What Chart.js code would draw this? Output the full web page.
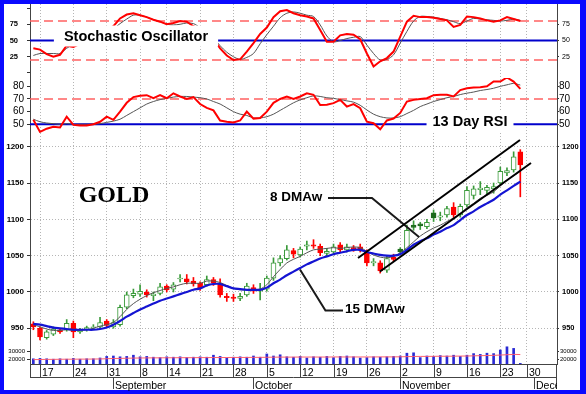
<!DOCTYPE html>
<html>
<head>
<meta charset="utf-8">
<script src="https://cdn.jsdelivr.net/npm/chart.js@4.4.1/dist/chart.umd.min.js"></script>
<style>
  html, body { margin: 0; padding: 0; background: #fff; }
  #chart { display: block; }
</style>
</head>
<body>
<canvas id="chart" width="586" height="394"></canvas>
<script>
// Trading days (2009), last five are empty slots to the right
const dates = [
  '08-14','08-17','08-18','08-19','08-20','08-21','08-24','08-25','08-26','08-27','08-28','08-31',
  '09-01','09-02','09-03','09-04','09-08','09-09','09-10','09-11','09-14','09-15','09-16','09-17','09-18',
  '09-21','09-22','09-23','09-24','09-25','09-28','09-29','09-30',
  '10-01','10-02','10-05','10-06','10-07','10-08','10-09','10-12','10-13','10-14','10-15','10-16',
  '10-19','10-20','10-21','10-22','10-23','10-26','10-27','10-28','10-29','10-30',
  '11-02','11-03','11-04','11-05','11-06','11-09','11-10','11-11','11-12','11-13',
  '11-16','11-17','11-18','11-19','11-20','11-23','11-24','11-25','11-27',
  '11-30','12-01','12-02','12-03','12-04'
];
const monthNames = ['January','February','March','April','May','June','July','August','September','October','November','December'];

// Gold OHLC
const open  = [956,950,937,942,948,948,957,945,949,951,952,960,952,955,979,995,997,1000,995,998,
  1008,1004,1018,1018,1015,1012,1010,1017,1012,994,993,991,996,1006,1001,1004,1019,1040,1046,1057,
  1051,1063,1065,1063,1053,1055,1065,1058,1061,1062,1055,1040,1040,1030,1048,1059,1058,1092,1094,1090,
  1109,1103,1106,1117,1106,1120,1133,1141,1140,1142,1150,1164,1168,1193];
const high  = [959,952,947,952,950,962,960,950,953,955,965,962,962,982,1000,1004,1010,1003,1000,1012,
  1010,1013,1024,1024,1020,1014,1022,1020,1018,998,997,998,1012,1010,1012,1022,1047,1050,1064,1060,
  1062,1070,1072,1066,1060,1066,1068,1066,1064,1066,1058,1046,1043,1050,1052,1061,1092,1098,1096,1100,
  1113,1110,1118,1123,1121,1145,1146,1152,1147,1150,1172,1171,1193,1196];
const low   = [948,934,935,940,943,946,937,943,946,948,950,951,950,953,977,992,994,993,988,996,
  1000,1000,1014,1011,1008,1002,1008,1009,993,987,987,988,994,998,989,1001,1016,1036,1044,1047,
  1048,1058,1060,1050,1050,1052,1055,1055,1056,1055,1036,1036,1026,1027,1042,1052,1055,1085,1086,1087,
  1097,1098,1103,1102,1103,1117,1128,1134,1134,1136,1148,1160,1165,1131];
const close = [952,938,945,949,945,957,945,948,951,952,958,954,958,979,996,998,1001,996,997,1007,
  1003,1010,1019,1014,1011,1006,1017,1012,996,992,991,994,1008,1001,1003,1019,1040,1046,1058,1052,
  1059,1065,1063,1054,1056,1062,1058,1062,1059,1058,1040,1042,1029,1046,1045,1055,1085,1089,1091,1096,
  1102,1105,1115,1106,1118,1140,1142,1143,1144,1145,1166,1167,1186,1175];

// weighted moving averages
const dma8  = [955,952,949,947,947,948,947,947,948,950,953,955,958,966,976,984,990,995,999,1002,
  1005,1007,1010,1012,1012,1012,1015,1015,1013,1009,1005,1003,1003,1003,1004,1010,1021,1031,1040,1045,
  1049,1054,1058,1059,1060,1061,1060,1061,1062,1061,1056,1051,1048,1047,1049,1054,1061,1069,1077,1083,
  1088,1092,1097,1102,1108,1116,1122,1129,1133,1138,1146,1154,1160,1166];
const dma15 = [956,955,953,951,950,949,948,948,948,948,949,951,955,960,966,971,976,980,984,988,
  991,994,997,1000,1003,1005,1009,1011,1011,1008,1005,1004,1003,1003,1003,1006,1012,1017,1023,1028,
  1033,1038,1042,1046,1049,1052,1054,1056,1058,1058,1055,1053,1051,1050,1050,1052,1058,1065,1070,1074,
  1079,1083,1088,1092,1099,1106,1111,1117,1122,1127,1134,1140,1146,1152];

// stochastic oscillator %K and %D
const stochK = [38,36,29,25,28,42,40,45,50,55,62,66,72,84,90,92,89,86,82,79,
  75,77,80,79,72,66,60,52,38,27,20,21,33,46,60,70,86,95,97,92,
  89,87,84,66,48,48,58,60,59,52,30,10,18,23,33,56,79,88,86,86,
  85,83,81,71,74,87,86,84,81,79,81,86,83,80];
const stochD = [27,30,30,30,30,38,44,46,50,54,58,62,68,76,83,89,89,86,82,79,
  75,74,75,77,76,70,64,54,42,32,25,21,24,30,45,59,72,85,92,94,
  92,89,87,74,57,48,50,53,55,56,43,30,20,21,28,46,64,80,87,87,
  86,84,82,79,76,80,84,83,82,81,80,81,83,81];

// 13 day RSI and its average
const rsi    = [53.5,44,46.5,48,47.5,56,49.5,49,49,50,52,56,53.5,60,67,71.5,72.5,73,70.6,73,
  70.6,74.5,72,70,71.5,66,63,61,53,52,51.5,53,60,54.5,55,60,67,70,72,70,
  72,74.5,73.3,65.3,65.5,66.7,69.3,64,66,62.7,52,50.8,46,53,54.5,59,68,69.3,70,70.6,
  73,73.3,73.3,72,77,78.5,79,79.3,80,83.8,83.8,87,83.8,78];
const rsiAvg = [54,52,51,50.5,50,50.5,50,50,50,50,50.5,51.5,52.5,54,57,60,63,66,68,69.5,
  70.5,71.5,72,72,71.5,71,70,68,66,63,60,58,57,55,55,56,58,61,64,67,
  69.3,71,72.5,72,71,70.5,69.5,68.5,67.5,65,61.3,58,56,55,55,56,58.5,61,64,66,
  68,69.5,71,72,73.5,74.6,75.5,76.7,77.5,78.5,80,81.2,82.3,81];

// volume and its average
const volume = [20500,21000,20500,20000,20500,20000,21000,20000,20500,20500,21500,
  23500,24000,23000,23500,25000,23000,23500,22500,22000,23000,
  22500,23000,22000,22500,23000,22500,25000,23500,21500,22500,23000,22500,24000,22500,
  26500,24000,25500,
  23000,22500,23500,21500,23000,22500,23500,22000,23500,24000,23000,21500,22000,23000,22500,23000,23500,
  24000,27500,28000,22000,24000,23500,24500,24000,25000,23500,
  25000,27000,26000,27500,27000,31500,35500,33500,14800];
const volAvg = [19500,19600,19800,19800,19900,20000,20000,20100,20100,20200,
  20300,20600,20900,21000,21200,21400,21500,21600,21700,21700,
  21800,21800,21900,21900,21900,22000,22000,22100,22100,22100,
  22200,22200,22200,22300,22300,22400,22500,22600,22600,22600,
  22700,22700,22700,22700,22700,22800,22800,22800,22800,22800,
  22800,22800,22900,22900,22900,23000,23200,23400,23500,23500,
  23600,23700,23700,23800,23900,24000,24200,24400,24600,24800,
  25200,25600,26000,25800];

// axis ticks
const stochTicks = [0, 25, 50, 75, 100];
const rsiTicks = [50, 60, 70, 80];
const priceTicks = [950, 1000, 1050, 1100, 1150, 1200];
const volTicks = [20000, 30000];

// trend channel and pointer lines (index, price)
const upperChannel = [{x: 48.67, y: 1046.8}, {x: 72.95, y: 1209.3}];
const lowerChannel = [{x: 51.96, y: 1028.2}, {x: 74.6, y: 1177.6}];
const pointer8  = [{x: 44.17, y: 1129.4}, {x: 50.76, y: 1129.4}, {x: 57.81, y: 1075.7}];
const pointer15 = [{x: 46.42, y: 974.5}, {x: 43.79, y: 974.5}, {x: 39.97, y: 1031.0}];

const SANS = '"Liberation Sans", Arial, sans-serif';
const GREEN = '#3a9a3a', DARKGREEN = '#1d6b1d', RED = '#ff0000';
const X_MIN = -0.5, X_MAX = dates.length - 0.5;

const dayOf = s => new Date(2009, +s.slice(0, 2) - 1, +s.slice(3));
const weekStarts = dates.map((d, i) => i).filter(i => i > 0 && dayOf(dates[i]).getDay() <= dayOf(dates[i - 1]).getDay());
const monthStarts = dates.map((d, i) => i).filter(i => i > 0 && dates[i].slice(0, 2) !== dates[i - 1].slice(0, 2));

const pts = arr => arr.map((v, i) => ({ x: i, y: v }));
const flat = v => [{ x: X_MIN, y: v }, { x: X_MAX, y: v }];

// candle colours: green/red against previous close, filled when close < open
const upDay = close.map((c, i) => i > 0 ? c >= close[i - 1] : c >= open[i]);
const bodyFill = close.map((c, i) => c >= open[i] ? '#ffffff' : (upDay[i] ? DARKGREEN : RED));
const bodyEdge = close.map((c, i) => upDay[i] ? (c >= open[i] ? GREEN : DARKGREEN) : RED);
const wickColor = upDay.map(u => u ? GREEN : RED);

function lineSet(axis, data, color, width, order, extra) {
  return Object.assign({ type: 'line', yAxisID: axis, data, borderColor: color, borderWidth: width,
    pointRadius: 0, fill: false, order }, extra || {});
}

const datasets = [
  // reference lines
  lineSet('stoch', flat(80), '#ff6262', 1.5, 9, { borderDash: [9, 5] }),
  lineSet('stoch', flat(20), '#ff6262', 1.5, 9, { borderDash: [9, 5] }),
  lineSet('stoch', flat(50), '#0000cc', 2, 9),
  lineSet('rsi', flat(70), '#ff6262', 1.5, 9, { borderDash: [9, 5] }),
  lineSet('rsi', flat(50), '#0000cc', 2, 9),
  // oscillators
  lineSet('stoch', pts(stochD), '#555555', 1, 4, { tension: 0.3 }),
  lineSet('stoch', pts(stochK), '#ff0000', 2, 3),
  lineSet('rsi', pts(rsiAvg), '#555555', 1, 4, { tension: 0.3 }),
  lineSet('rsi', pts(rsi), '#ff0000', 2, 3),
  // volume
  { type: 'bar', yAxisID: 'vol', data: pts(volume), base: 14000, backgroundColor: '#2a2ad4',
    barThickness: 2, grouped: false, order: 12 },
  lineSet('vol', pts(volAvg), '#ff6070', 1, 11),
  // candles
  { type: 'bar', yAxisID: 'price', data: low.map((l, i) => ({ x: i, y: [l, high[i]] })),
    backgroundColor: wickColor, barThickness: 1, grouped: false, order: 8 },
  { type: 'bar', yAxisID: 'price', data: open.map((o, i) => ({ x: i, y: [o, close[i]] })),
    backgroundColor: bodyFill, borderColor: bodyEdge, borderWidth: 1, borderSkipped: false,
    barThickness: 5, grouped: false, order: 7 },
  // averages
  lineSet('price', pts(dma8), '#555555', 1, 2, { tension: 0.3 }),
  lineSet('price', pts(dma15), '#1414d2', 2.2, 1, { tension: 0.3 }),
  // channel + pointers
  lineSet('price', upperChannel, '#000000', 2, 0),
  lineSet('price', lowerChannel, '#000000', 2, 0),
  lineSet('price', pointer8, '#1a1a1a', 2, 0),
  lineSet('price', pointer15, '#1a1a1a', 2, 0)
];

// text on the chart
const captions = [
  { text: 'Stochastic Oscillator', axis: 'stoch', x: 15.39, y: 56.9, padX: 10, h: 21 },
  { text: '13 Day RSI', axis: 'rsi', x: 65.46, y: 52.6, padX: 6, h: 20 }
];
const notes = [
  { text: 'GOLD', x: 12.09, y: 1132.2, font: 'bold 24px "Liberation Serif", "Times New Roman", serif', align: 'center' },
  { text: '8 DMAw', x: 35.47, y: 1130.1, font: 'bold 13.5px ' + SANS, align: 'left' },
  { text: '15 DMAw', x: 46.72, y: 975.9, font: 'bold 13.5px ' + SANS, align: 'left' }
];

const framePlugin = {
  id: 'frame',
  beforeDraw(chart) {
    const { ctx, width, height } = chart;
    ctx.save();
    ctx.fillStyle = '#0a0aff';
    ctx.fillRect(0, 0, width, height);
    ctx.fillStyle = '#ffffff';
    ctx.fillRect(4, 4, width - 10, height - 8);
    ctx.restore();
  }
};

const textPlugin = {
  id: 'texts',
  afterDatasetsDraw(chart) {
    const { ctx, scales } = chart;
    ctx.save();
    ctx.textBaseline = 'middle';
    ctx.font = 'bold 14.5px ' + SANS;
    captions.forEach(c => {
      const px = scales.x.getPixelForValue(c.x), py = scales[c.axis].getPixelForValue(c.y);
      const w = ctx.measureText(c.text).width + c.padX * 2;
      ctx.fillStyle = '#ffffff';
      ctx.fillRect(px - w / 2, py - c.h / 2, w, c.h);
      ctx.fillStyle = '#000000';
      ctx.textAlign = 'center';
      ctx.fillText(c.text, px, py + 1);
    });
    notes.forEach(n => {
      ctx.font = n.font;
      ctx.textAlign = n.align;
      ctx.fillStyle = '#000000';
      ctx.fillText(n.text, scales.x.getPixelForValue(n.x), scales.price.getPixelForValue(n.y));
    });
    ctx.restore();
  }
};

const dateRowsPlugin = {
  id: 'dateRows',
  afterDraw(chart) {
    const { ctx, chartArea: a, scales: { x } } = chart;
    const top = a.bottom, mid = top + 13, bottom = top + 25;
    const px = i => Math.round(x.getPixelForValue(i)) + 0.5;
    ctx.save();
    ctx.beginPath();
    ctx.rect(a.left, top, a.right - a.left, 27);
    ctx.clip();
    ctx.strokeStyle = '#444444';
    ctx.lineWidth = 1;
    ctx.beginPath();
    ctx.moveTo(a.left, mid + 0.5); ctx.lineTo(a.right, mid + 0.5);
    ctx.moveTo(a.left + 0.5, top); ctx.lineTo(a.left + 0.5, mid);
    ctx.moveTo(a.right - 0.5, top); ctx.lineTo(a.right - 0.5, bottom);
    weekStarts.forEach(i => { ctx.moveTo(px(i), top); ctx.lineTo(px(i), mid); });
    monthStarts.forEach(i => { ctx.moveTo(px(i), mid); ctx.lineTo(px(i), bottom); });
    ctx.stroke();
    ctx.fillStyle = '#000000';
    ctx.font = '10.5px ' + SANS;
    ctx.textAlign = 'left';
    ctx.textBaseline = 'alphabetic';
    weekStarts.forEach(i => ctx.fillText(String(+dates[i].slice(3)), px(i) + 1.5, top + 11.5));
    monthStarts.forEach(i => ctx.fillText(monthNames[+dates[i].slice(0, 2) - 1], px(i) + 1.5, bottom - 0.5));
    ctx.restore();
  }
};

const setTicks = values => scale => { scale.ticks = values.map(v => ({ value: v })); };
// fixed axis sizes, and no label overhang padding (it would push the plot down)
const noPad = s => { s.paddingTop = s.paddingBottom = s.paddingLeft = s.paddingRight = 0; };
const leftFit = s => { s.width = 26; noPad(s); };
const rightFit = s => { s.width = 23; noPad(s); };

function yAxis(side, stack, weight, min, max, ticks, opts) {
  const left = side === 'left';
  return {
    type: 'linear', position: side, stack, stackWeight: weight, min, max,
    afterBuildTicks: setTicks(ticks),
    afterFit: left ? leftFit : rightFit,
    grid: { drawOnChartArea: !!opts.grid, color: '#b5b5b5', tickLength: left ? 3 : 2, tickColor: '#333333', tickWidth: 1 },
    border: { color: '#444444', dash: [1, 2] },
    ticks: { autoSkip: false, padding: opts.pad, color: '#000000',
      font: { family: SANS, size: opts.size, weight: opts.bold ? 'bold' : 'normal' },
      callback: opts.cb || (v => v) }
  };
}

const stochLabel = v => (v === 0 || v === 100) ? '' : v;

new Chart(document.getElementById('chart'), {
  type: 'bar',
  data: { datasets },
  options: {
    responsive: false,
    animation: false,
    devicePixelRatio: 1,
    events: [],
    layout: { autoPadding: false, padding: { left: 4, right: 6, top: 4, bottom: 4 } },
    plugins: { legend: { display: false }, tooltip: { enabled: false } },
    scales: {
      x: {
        type: 'linear', min: X_MIN, max: X_MAX, offset: false,
        afterBuildTicks: setTicks(weekStarts),
        afterFit: s => { s.height = 26; noPad(s); },
        grid: { offset: false, color: '#b5b5b5', lineWidth: 1, drawTicks: false },
        border: { display: true, color: '#444444', dash: [1, 2] },
        ticks: { display: false }
      },
      // left stack is laid out bottom-up
      vol: yAxis('left', 'L', 23, 14000, 42750, volTicks, { pad: 2, size: 6 }),
      price: yAxis('left', 'L', 208, 932.5, 1218.9, priceTicks, { pad: 3, size: 8, bold: true, grid: true }),
      rsi: yAxis('left', 'L', 55, 43.1, 86.6, rsiTicks, { pad: 3, size: 10 }),
      stoch: yAxis('left', 'L', 74, -7.7, 106.2, stochTicks, { pad: 9, size: 7.5, bold: true, cb: stochLabel }),
      // right stack is laid out top-down
      stochR: yAxis('right', 'R', 74, -7.7, 106.2, [25, 50, 75], { pad: 3, size: 7 }),
      rsiR: yAxis('right', 'R', 55, 43.1, 86.6, rsiTicks, { pad: 0, size: 10 }),
      priceR: yAxis('right', 'R', 208, 932.5, 1218.9, priceTicks, { pad: 3, size: 7.5, bold: true }),
      volR: yAxis('right', 'R', 23, 14000, 42750, volTicks, { pad: 1, size: 6 })
    }
  },
  plugins: [framePlugin, textPlugin, dateRowsPlugin]
});
</script>
</body>
</html>
